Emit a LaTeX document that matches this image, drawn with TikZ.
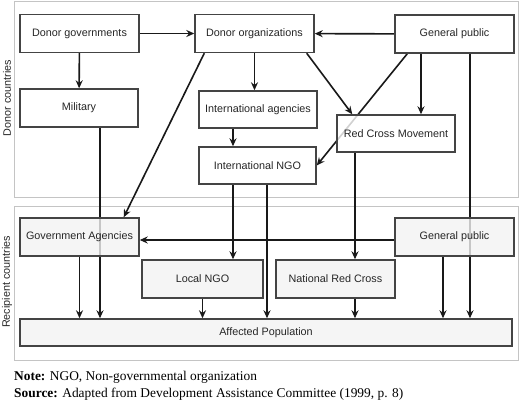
\documentclass[tikz,border=0pt]{standalone}
\usepackage{fontspec}
\setmainfont{Liberation Serif}
\newfontfamily\boxfont{Liberation Sans}
\usetikzlibrary{positioning, calc, arrows.meta}
\definecolor{boxline}{HTML}{444444}
\definecolor{frameline}{HTML}{C4C4C4}
\definecolor{recfill}{HTML}{F2F2F2}
\pgfdeclarelayer{frames}
\pgfdeclarelayer{lines}
\pgfsetlayers{frames,lines,main}
\tikzstyle{box} = [rectangle, draw=boxline, line width=1.4pt, fill=white, fill opacity=0.8, text opacity=1, text=black!85, font=\boxfont\fontsize{10.8}{13}\selectfont, minimum width=119pt, minimum height=38pt, inner sep=0pt, text centered]
\tikzstyle{recbox} = [box, fill=recfill]
\tikzstyle{frame} = [draw=frameline, line width=0.9pt]
\tikzstyle{side} = [rotate=90, text=black!85, font=\boxfont\fontsize{10.8}{13}\selectfont]
\tikzstyle{myarrow} = [-{Stealth[length=8pt,width=7pt]}, line width=1.6pt, draw=black!90]

\begin{document}
\begin{tikzpicture}[x=1pt, y=-1pt]
\useasboundingbox (0,0) rectangle (520,404);
% donor countries
\node(dongov)[box] at (79.5,33.5) {Donor governments};
\node(donorg)[box] at (254.5,33.5) {Donor organizations};
\node(pubdon)[box] at (454.5,34) {General public};
\node(military)[box, minimum width=118pt] at (79,108) {Military};
\node(intagency)[box, minimum width=118pt, minimum height=37pt] at (258,109.5) {International agencies};
\node(intngo)[box, minimum width=117pt, minimum height=37pt] at (257.5,165.5) {International NGO};
\node(redcross)[box, minimum width=118pt, minimum height=37pt] at (396,133.5) {Red Cross Movement};
% recipient countries
\node(govagency)[recbox] at (79.5,237) {Government Agencies};
\node(localngo)[recbox, minimum width=121pt] at (202.5,279) {Local NGO};
\node(natredcross)[recbox] at (335.5,279) {National Red Cross};
\node(pubrec)[recbox] at (454.5,237) {General public};
\node(affected)[recbox, minimum width=492pt, minimum height=27pt] at (266,332.5) {Affected Population};
\node[side] at (7,98) {Donor countries};
\node[side] at (7,282) {Recipient countries};
\node(note)[anchor=base west, inner sep=0pt, font=\fontsize{13.4}{16}\selectfont] at (14,380) {\textbf{Note:} NGO, Non-governmental organization};
\node(source)[anchor=base west, inner sep=0pt, font=\fontsize{13.4}{16}\selectfont] at (14,397.5) {\textbf{Source:} Adapted from Development Assistance Committee (1999, p. 8)};
\begin{pgfonlayer}{frames}
\draw[frame] (14,1) rectangle (518,197);
\draw[frame] (14,206) rectangle (518,360);
\end{pgfonlayer}
\begin{pgfonlayer}{lines}
\draw [myarrow] (dongov) -- (donorg);
\draw [myarrow] (pubdon) -- (donorg);
\draw [myarrow] (dongov) -- (military);
\draw [myarrow] ([xshift=21pt]military.south) -- ([xshift=21pt]military.south |- affected.north);
\draw [myarrow] ([xshift=10pt]donorg.south west) -- ([xshift=-16pt]govagency.north east);
\draw [myarrow] (donorg.south) -- (donorg.south |- intagency.north);
\draw [myarrow] ([xshift=-25pt]intagency.south) -- ([xshift=-25pt]intagency.south |- intngo.north);
\draw [myarrow] ([xshift=-8pt]donorg.south east) -- ([xshift=16pt]redcross.north west);
\draw [myarrow] ([xshift=13pt]pubdon.south west) -- (intngo.east);
\draw [myarrow] ([xshift=25pt]redcross.north |- pubdon.south) -- ([xshift=25pt]redcross.north);
\draw [myarrow] ([xshift=15.5pt]pubdon.south) -- ([xshift=15.5pt]pubdon.south |- affected.north);
\draw [myarrow] ([xshift=-24.5pt]intngo.south) -- ([xshift=-24.5pt]intngo.south |- localngo.north);
\draw [myarrow] ([xshift=9.5pt]intngo.south) -- ([xshift=9.5pt]intngo.south |- affected.north);
\draw [myarrow] ([xshift=19.5pt]natredcross.north |- redcross.south) -- ([xshift=19.5pt]natredcross.north);
\draw [myarrow] ([yshift=-3pt]pubrec.west) -- ([yshift=-3pt]govagency.east);
\draw [myarrow] (govagency.south) -- (govagency.south |- affected.north);
\draw [myarrow] (localngo.south) -- (localngo.south |- affected.north);
\draw [myarrow] ([xshift=19.5pt]natredcross.south) -- ([xshift=19.5pt]natredcross.south |- affected.north);
\draw [myarrow] ([xshift=-11.5pt]pubrec.south) -- ([xshift=-11.5pt]pubrec.south |- affected.north);
\end{pgfonlayer}
\end{tikzpicture}
\end{document}
